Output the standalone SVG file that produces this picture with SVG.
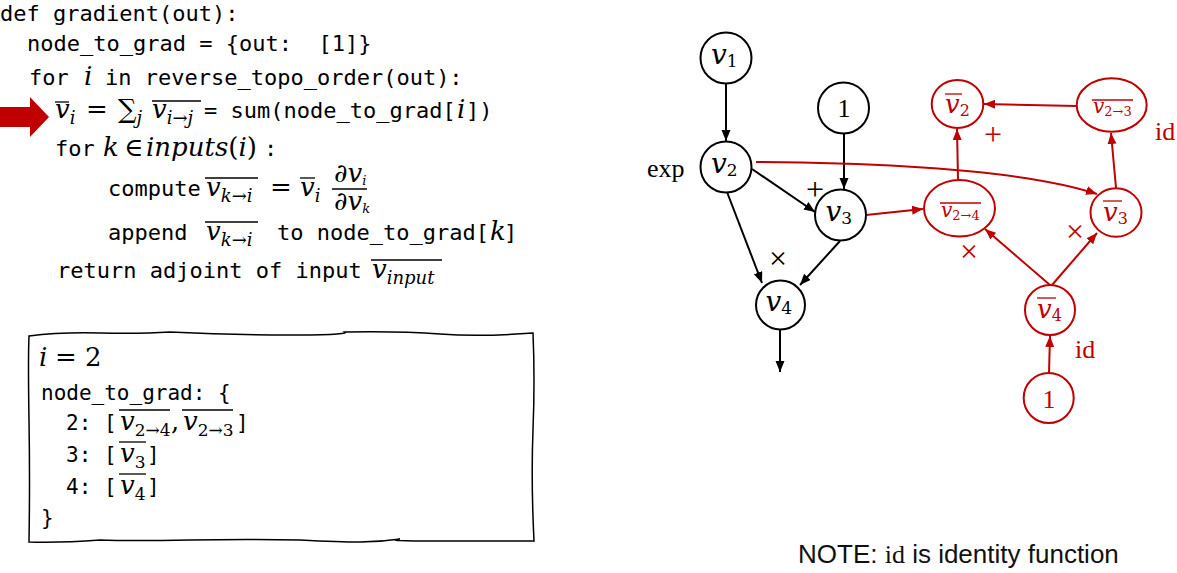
<svg xmlns="http://www.w3.org/2000/svg" width="1177" height="573" viewBox="0 0 1177 573">
<defs>
<style>
.code{font-family:"DejaVu Sans Mono",monospace;font-size:22px;fill:#000;white-space:pre}
.bc{font-family:"DejaVu Sans Mono",monospace;font-size:21px;fill:#000;white-space:pre}
.m{font-family:"DejaVu Serif",serif;font-style:italic;font-size:26px;fill:#000}
.mu{font-family:"DejaVu Serif",serif;font-size:26px;fill:#000}
.s{font-size:18px}
.su{font-style:normal}
.bar{stroke:#000;stroke-width:1.3}
.rbar{stroke:#C00000;stroke-width:1.3}
.nb{fill:#fff;stroke:#000;stroke-width:2}
.nr{fill:#fff;stroke:#C00000;stroke-width:2}
.lb{font-family:"DejaVu Serif",serif;font-style:italic;font-size:28px;fill:#000}
.lr{font-family:"DejaVu Serif",serif;font-style:italic;font-size:26px;fill:#C00000}
.lrs{font-family:"DejaVu Serif",serif;font-style:italic;font-size:20px;fill:#C00000}
.lab{font-family:"Liberation Serif",serif;font-size:26px;fill:#000}
.labr{font-family:"Liberation Serif",serif;font-size:26px;fill:#C00000}
.op{font-family:"Liberation Serif",serif;font-size:32px;fill:#000}
.opr{font-family:"Liberation Serif",serif;font-size:32px;fill:#C00000}
.eb{stroke:#000;stroke-width:2;fill:none;marker-end:url(#ab)}
.er{stroke:#C00000;stroke-width:2;fill:none;marker-end:url(#ar)}
.note{font-family:"Liberation Sans",sans-serif;font-size:26px;fill:#111}
</style>
<marker id="ab" markerWidth="12" markerHeight="10" refX="11" refY="4.5" orient="auto" markerUnits="userSpaceOnUse"><path d="M0,0 L11,4.5 L0,9 Z" fill="#000"/></marker>
<marker id="ar" markerWidth="12" markerHeight="10" refX="11" refY="4.5" orient="auto" markerUnits="userSpaceOnUse"><path d="M0,0 L11,4.5 L0,9 Z" fill="#C00000"/></marker>
</defs>
<rect width="1177" height="573" fill="#fff"/>

<g id="code">
<text class="code" x="0" y="21">def gradient(out):</text>
<text class="code" x="27" y="51">node_to_grad = {out:  [1]}</text>
<text class="code" x="29" y="85">for</text>
<text class="m" x="84" y="85">i</text>
<text class="code" x="105" y="85">in reverse_topo_order(out):</text>
<path d="M0,107 L30,107 L30,97 L49,117 L30,137 L30,127 L0,127 Z" fill="#C00000"/>
<text class="m" x="55" y="118">v<tspan class="s" dy="6">i</tspan></text>
<line class="bar" x1="55" y1="102" x2="69" y2="102"/>
<text class="mu" x="86" y="118">=</text>
<text class="mu" x="118" y="118">∑<tspan class="s" font-style="italic" dy="6">j</tspan></text>
<text class="m" x="152" y="118">v<tspan class="s" dy="6">i<tspan class="su">→</tspan>j</tspan></text>
<line class="bar" x1="152" y1="101" x2="201" y2="101"/>
<text class="code" x="204" y="118">= sum(node_to_grad[</text>
<text class="m" x="457" y="118">i</text>
<text class="code" x="466" y="118">])</text>

<text class="code" x="55" y="156">for</text>
<text class="m" x="103" y="156">k</text>
<text class="mu" x="124" y="156">∈</text>
<text class="m" x="146" y="156" font-size="27">inputs<tspan class="su">(</tspan>i<tspan class="su">)</tspan></text>
<text class="code" x="264" y="156">:</text>

<text class="code" x="108" y="196">compute</text>
<text class="m" x="206" y="196">v<tspan class="s" dy="6">k<tspan class="su">→</tspan>i</tspan></text>
<line class="bar" x1="205" y1="178" x2="258" y2="178"/>
<text class="mu" x="270" y="196">=</text>
<text class="m" x="300" y="196">v<tspan class="s" dy="6">i</tspan></text>
<line class="bar" x1="300" y1="178" x2="315" y2="178"/>
<text class="m" x="334" y="182" font-size="19"><tspan class="su">∂</tspan>v<tspan font-size="13" dy="3">i</tspan></text>
<line class="bar" x1="332" y1="189" x2="367" y2="189"/>
<text class="m" x="334" y="210" font-size="19"><tspan class="su">∂</tspan>v<tspan font-size="13" dy="3">k</tspan></text>

<text class="code" x="108" y="240">append</text>
<text class="m" x="206" y="240">v<tspan class="s" dy="6">k<tspan class="su">→</tspan>i</tspan></text>
<line class="bar" x1="205" y1="222" x2="258" y2="222"/>
<text class="code" x="277" y="240">to node_to_grad[</text>
<text class="m" x="490" y="240">k</text>
<text class="code" x="504" y="240">]</text>

<text class="code" x="57" y="278">return adjoint of input</text>
<text class="m" x="372" y="278">v<tspan class="s" dy="6">input</tspan></text>
<line class="bar" x1="371" y1="260" x2="442" y2="260"/>
</g>

<g id="state-box">
<path d="M29,336 Q60,332 100,333 T170,332 Q230,335 290,335 T345,332 Q400,331 440,334 T533,333 Q535,380 533,430 T534,541 Q500,541 440,541 T400,539 Q380,542 360,542 T300,540 Q250,539 190,540 T100,540 Q60,543 29,542 Q30,480 29,420 T29,336 Z" fill="none" stroke="#000" stroke-width="1.5"/>
<text class="m" x="39" y="366" font-size="25">i</text>
<text class="mu" x="55" y="366" font-size="25">=</text>
<text class="mu" x="85" y="366" font-size="25">2</text>
<text class="bc" x="41" y="400">node_to_grad: {</text>
<text class="bc" x="66" y="430">2: [</text>
<text class="m" x="120" y="430" font-size="26">v<tspan font-size="17" class="su" dy="6">2→4</tspan></text>
<line class="bar" x1="119" y1="410" x2="170" y2="410"/>
<text class="mu" x="171" y="430" font-size="24">,</text>
<text class="m" x="183" y="430" font-size="26">v<tspan font-size="17" class="su" dy="6">2→3</tspan></text>
<line class="bar" x1="182" y1="410" x2="233" y2="410"/>
<text class="bc" x="236" y="430">]</text>
<text class="bc" x="66" y="462">3: [</text>
<text class="m" x="120" y="462" font-size="26">v<tspan font-size="17" class="su" dy="6">3</tspan></text>
<line class="bar" x1="119" y1="442" x2="146" y2="442"/>
<text class="bc" x="147" y="462">]</text>
<text class="bc" x="66" y="494">4: [</text>
<text class="m" x="120" y="494" font-size="26">v<tspan font-size="17" class="su" dy="6">4</tspan></text>
<line class="bar" x1="119" y1="474" x2="146" y2="474"/>
<text class="bc" x="147" y="494">]</text>
<text class="bc" x="41" y="525">}</text>
</g>

<g id="connectors">
<path class="eb" d="M726,84 L726,141"/>
<path class="eb" d="M844,134 L844,189"/>
<path class="eb" d="M752,169 L815,212"/>
<path class="eb" d="M727,192 L762,283"/>
<path class="eb" d="M840,241 L800,285"/>
<path class="eb" d="M780,330 L780,372"/>
<path class="er" d="M866,215 L923,209"/>
<path class="er" d="M756,162 C900,163 1030,172 1097,194"/>
<path class="er" d="M958,180 L957,129"/>
<path class="er" d="M1077,106 L984,104"/>
<path class="er" d="M1116,188 L1111,133"/>
<path class="er" d="M1050,285 L985,229"/>
<path class="er" d="M1052,285 L1097,233"/>
<path class="er" d="M1049,373 L1050,336"/>
</g>

<g id="node-v1"><circle class="nb" cx="726" cy="58" r="25.5"/><text class="lb" x="711" y="64">v<tspan font-size="17" class="su" dy="3">1</tspan></text></g>
<g id="node-one"><circle class="nb" cx="843.5" cy="108" r="25.5"/><text class="lab" x="844" y="117" text-anchor="middle">1</text></g>
<g id="node-v2"><circle class="nb" cx="726" cy="167" r="25.5"/><text class="lb" x="711" y="173">v<tspan font-size="17" class="su" dy="3">2</tspan></text></g>
<g id="node-v3"><circle class="nb" cx="840.5" cy="215" r="25.5"/><text class="lb" x="825.5" y="221">v<tspan font-size="17" class="su" dy="3">3</tspan></text></g>
<g id="node-v4"><circle class="nb" cx="780.5" cy="305" r="24.5"/><text class="lb" x="765.5" y="311">v<tspan font-size="17" class="su" dy="3">4</tspan></text></g>

<g id="labels-black">
<text class="lab" x="647" y="177">exp</text>
<text class="op" x="815" y="200" text-anchor="middle">+</text>
<text class="op" x="778" y="269" text-anchor="middle">×</text>
</g>

<g id="node-gv2"><ellipse class="nr" cx="957.5" cy="104" rx="25.8" ry="24"/><text class="lr" x="945" y="113">v<tspan font-size="16" class="su" dy="3">2</tspan></text><line class="rbar" x1="945" y1="94" x2="962" y2="94"/></g>
<g id="node-gv23"><ellipse class="nr" cx="1111.7" cy="105" rx="35" ry="26.7"/><text class="lrs" x="1093" y="113">v<tspan font-size="13" class="su" dy="3">2→3</tspan></text><line class="rbar" x1="1092" y1="100" x2="1133" y2="100"/></g>
<g id="node-gv24"><ellipse class="nr" cx="959.5" cy="208.3" rx="35.5" ry="28.3"/><text class="lrs" x="941" y="217">v<tspan font-size="13" class="su" dy="3">2→4</tspan></text><line class="rbar" x1="940" y1="203" x2="981" y2="203"/></g>
<g id="node-gv3"><ellipse class="nr" cx="1116" cy="212.5" rx="25.5" ry="24.2"/><text class="lr" x="1103" y="221">v<tspan font-size="16" class="su" dy="3">3</tspan></text><line class="rbar" x1="1103" y1="201" x2="1122" y2="201"/></g>
<g id="node-gv4"><ellipse class="nr" cx="1050" cy="310" rx="25" ry="25"/><text class="lr" x="1037" y="318">v<tspan font-size="16" class="su" dy="3">4</tspan></text><line class="rbar" x1="1037" y1="298" x2="1056" y2="298"/></g>
<g id="node-gone"><circle class="nr" cx="1048.7" cy="398" r="25"/><text class="labr" x="1049" y="408" text-anchor="middle">1</text></g>

<g id="labels-red">
<text class="opr" x="993" y="145" text-anchor="middle">+</text>
<text class="opr" x="969" y="262" text-anchor="middle">×</text>
<text class="opr" x="1075" y="242" text-anchor="middle">×</text>
<text class="labr" x="1155" y="140" font-size="24">id</text>
<text class="labr" x="1075" y="358" font-size="24">id</text>
</g>

<g id="note">
<text class="note" x="798" y="563">NOTE: <tspan font-family="Liberation Serif, serif">id</tspan> is identity function</text>
</g>
</svg>
